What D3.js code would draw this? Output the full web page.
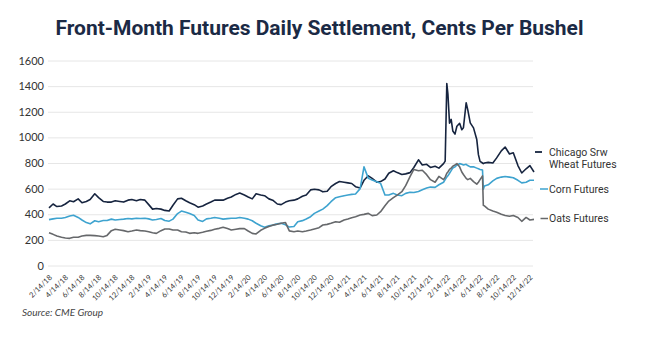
<!DOCTYPE html>
<html><head><meta charset="utf-8">
<script src="https://cdn.jsdelivr.net/npm/d3@7/dist/d3.min.js"></script>
<style>body{margin:0;background:#fff;} svg{display:block;}</style>
</head><body>
<svg id="chart" width="646" height="338"></svg>
<script>
// ---- data ----
const dates = [
"2018-02-14","2018-03-01","2018-03-15","2018-04-01","2018-04-15","2018-05-01","2018-05-15","2018-06-01","2018-06-15","2018-07-01","2018-07-15","2018-08-01","2018-08-15","2018-09-01","2018-09-15","2018-10-01","2018-10-15","2018-11-01","2018-11-15","2018-12-01","2018-12-15",
"2019-01-01","2019-01-15","2019-02-01","2019-02-15","2019-03-01","2019-03-15","2019-04-01","2019-04-15","2019-05-01","2019-05-15","2019-06-01","2019-06-15","2019-07-01","2019-07-15","2019-08-01","2019-08-15","2019-09-01","2019-09-15","2019-10-01","2019-10-15","2019-11-01","2019-11-15","2019-12-01","2019-12-15",
"2020-01-01","2020-01-15","2020-02-01","2020-02-15","2020-03-01","2020-03-15","2020-04-01","2020-04-15","2020-05-01","2020-05-15","2020-06-01","2020-06-15","2020-07-01","2020-07-15","2020-08-01","2020-08-15","2020-09-01","2020-09-15","2020-10-01","2020-10-15","2020-11-01","2020-11-15","2020-12-01","2020-12-15",
"2021-01-01","2021-01-15","2021-02-01","2021-02-15","2021-03-01","2021-03-15","2021-04-01","2021-04-15","2021-05-01","2021-05-15","2021-06-01","2021-06-15","2021-07-01","2021-07-15","2021-08-01","2021-08-15","2021-09-01","2021-09-15","2021-10-01","2021-10-15","2021-11-01","2021-11-15","2021-12-01","2021-12-15",
"2022-01-01","2022-01-15","2022-02-01","2022-02-07","2022-02-13","2022-02-17","2022-02-23","2022-03-01","2022-03-07","2022-03-15","2022-03-22","2022-04-01","2022-04-09","2022-04-15","2022-04-25","2022-05-01","2022-05-10","2022-05-22","2022-06-03","2022-06-09","2022-06-15","2022-06-24","2022-06-27","2022-07-01","2022-07-15","2022-08-01","2022-08-15","2022-09-01","2022-09-15","2022-10-01","2022-10-15","2022-11-01","2022-11-15","2022-12-01","2022-12-15","2022-12-30"
];
const wheat = [
450,480,460,465,480,505,498,520,490,500,515,560,530,500,495,495,505,500,495,510,515,
505,515,510,475,440,445,440,430,425,470,520,525,505,490,475,455,465,480,495,510,510,510,525,535,
555,565,550,535,520,560,550,545,520,510,480,475,495,505,510,520,540,550,590,595,590,575,580,615,
640,655,650,645,640,615,605,665,700,680,650,655,675,720,740,725,710,715,725,765,825,785,790,765,
775,760,795,815,1420,1340,1110,1140,1050,1025,1087,1110,1060,1075,1270,1215,1113,1074,983,865,813,800,795,800,805,800,840,895,925,870,880,780,722,755,780,730
];
const corn = [
358,364,369,369,375,386,392,375,355,335,325,349,342,351,351,362,355,359,362,367,364,
369,367,369,364,355,359,367,351,346,362,405,425,415,405,390,355,344,364,369,375,369,362,366,369,
369,375,369,362,349,330,310,299,310,315,325,330,318,300,305,342,350,363,381,407,425,440,467,498,
529,537,545,550,555,558,600,770,680,667,654,641,550,550,563,550,545,563,571,570,578,591,605,612,
610,630,650,670,690,700,720,740,760,770,785,795,790,785,790,780,770,770,760,755,750,745,595,620,630,660,680,690,695,690,685,665,645,650,665,665
];
const oats = [
255,243,230,220,215,212,220,220,230,235,235,233,230,225,235,272,283,277,272,264,269,
277,272,269,264,256,251,272,285,285,277,277,264,262,251,256,251,259,267,274,283,290,299,288,277,
283,288,288,269,251,246,275,290,305,315,322,330,335,270,264,269,264,269,277,285,295,316,321,329,
342,337,355,363,373,381,394,399,407,389,394,420,467,503,529,550,576,623,693,750,740,743,709,670,
650,695,670,690,720,730,750,760,775,785,795,770,730,710,680,670,680,655,635,650,670,700,470,465,440,425,415,400,390,385,390,375,345,375,355,360
];
const seriesNames = ["Chicago Srw Wheat Futures","Corn Futures","Oats Futures"];
const seriesColors = ["#16243f","#3ea3cf","#66686b"];
const yTicks = [0,200,400,600,800,1000,1200,1400,1600];
const xTickLabels = [
"2/14/18","4/14/18","6/14/18","8/14/18","10/14/18","12/14/18",
"2/14/19","4/14/19","6/14/19","8/14/19","10/14/19","12/14/19",
"2/14/20","4/14/20","6/14/20","8/14/20","10/14/20","12/14/20",
"2/14/21","4/14/21","6/14/21","8/14/21","10/14/21","12/14/21",
"2/14/22","4/14/22","6/14/22","8/14/22","10/14/22","12/14/22"];
const titleText = "Front-Month Futures Daily Settlement, Cents Per Bushel";
const sourceText = "Source: CME Group";

// ---- drawing ----
const svg = d3.select("#chart");
const parse = d3.timeParse("%Y-%m-%d");
const parseTick = d3.timeParse("%m/%d/%y");
const D = dates.map(parse);

const x = d3.scaleTime().domain([parse("2018-02-14"), parse("2022-12-30")]).range([49, 534]);
const y = d3.scaleLinear().domain([0,1600]).range([265.5, 60.5]);

// title
svg.append("text").attr("x", 319.5).attr("y", 35)
  .attr("text-anchor","middle")
  .attr("font-family","Roboto, 'Noto Sans', sans-serif")
  .attr("font-weight",700).attr("font-size",21)
  .attr("fill","#1b2a45")
  .attr("textLength",528).attr("lengthAdjust","spacingAndGlyphs")
  .text(titleText);

// y grid + labels
const yAxis = d3.axisLeft(y).tickValues(yTicks).tickSize(-(533-48)).tickPadding(4).tickFormat(d3.format("d"));
const gy = svg.append("g").attr("transform","translate(48,0)").call(yAxis);
gy.select(".domain").remove();
gy.selectAll(".tick line").attr("stroke","#e6e6e6").attr("stroke-width",1);
gy.selectAll(".tick text").attr("font-family","Lato, 'Open Sans', sans-serif").attr("font-size",11).attr("fill","#333");

// x labels
const xTickDates = xTickLabels.map(parseTick);
const xAxis = d3.axisBottom(x).tickValues(xTickDates).tickSize(0).tickFormat((d,i)=>xTickLabels[i]);
const gx = svg.append("g").attr("transform","translate(0,270)").call(xAxis);
gx.select(".domain").remove();
gx.selectAll(".tick text")
  .attr("font-family","Lato, 'Open Sans', sans-serif").attr("font-size",7.5).attr("fill","#333")
  .attr("text-anchor","end").attr("dy",0).attr("y",0)
  .attr("transform","translate(3,8) rotate(-45)");

// lines
const series = [wheat, corn, oats];
const line = d3.line().x((d,i)=>x(D[i])).y(d=>y(d));
series.forEach((s,k)=>{
  svg.append("path").datum(s).attr("d",line)
    .attr("fill","none").attr("stroke",seriesColors[k]).attr("stroke-width",1.6)
    .attr("stroke-linejoin","round");
});

// legend
const lg = svg.append("g").attr("font-family","Roboto, 'Noto Sans', sans-serif").attr("font-size",10.5).attr("fill","#333");
lg.append("line").attr("x1",535).attr("x2",542).attr("y1",152).attr("y2",152).attr("stroke",seriesColors[0]).attr("stroke-width",1.8);
lg.append("text").attr("x",549).attr("y",155.5).text("Chicago Srw");
lg.append("text").attr("x",549).attr("y",168).text("Wheat Futures");
lg.append("line").attr("x1",540).attr("x2",548).attr("y1",189).attr("y2",189).attr("stroke",seriesColors[1]).attr("stroke-width",1.5);
lg.append("text").attr("x",549).attr("y",193).text(seriesNames[1]);
lg.append("line").attr("x1",540.5).attr("x2",548).attr("y1",218.5).attr("y2",218.5).attr("stroke",seriesColors[2]).attr("stroke-width",1.5);
lg.append("text").attr("x",549).attr("y",222).text(seriesNames[2]);

// source
svg.append("text").attr("x",22).attr("y",316).attr("font-family","Lato, 'Open Sans', sans-serif")
  .attr("font-style","italic").attr("font-size",10).attr("fill","#444").text(sourceText);
</script>
</body></html>
